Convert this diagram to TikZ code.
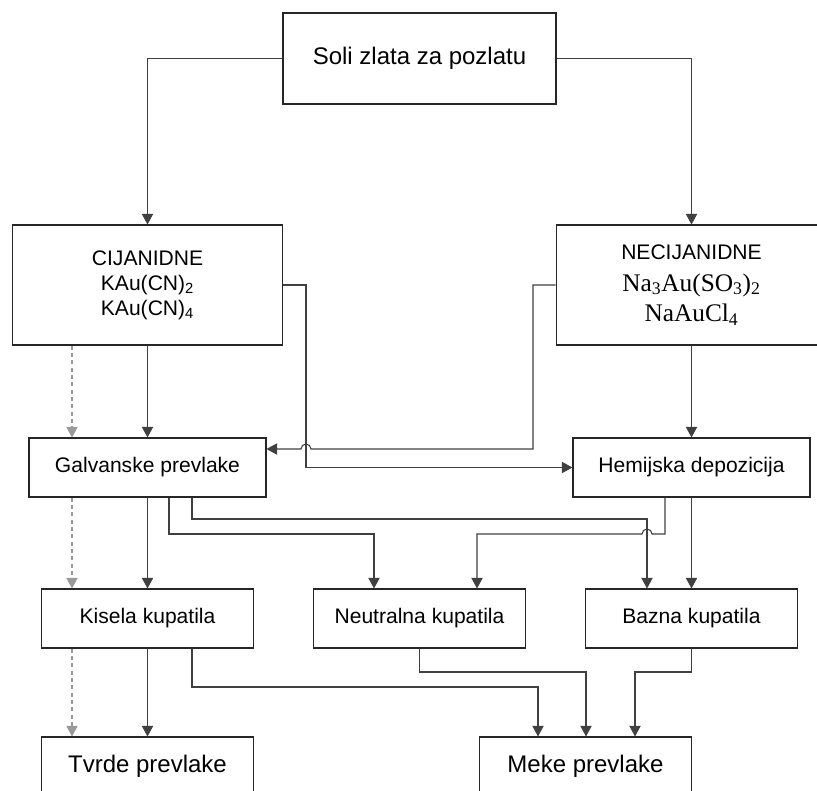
\documentclass[tikz,border=0pt]{standalone}
\usepackage{fontspec}
\setmainfont{Liberation Sans}
\newfontfamily\timesrm{Liberation Serif}
\usetikzlibrary{positioning,arrows.meta,calc}
\tikzset{
    block/.style = {
        draw=black!85,
        shape=rectangle,
        line width=0.8pt,
        inner sep=0pt,
        align=center,
        font=\fontsize{15.8}{18.75}\selectfont
    },
    salt/.style = {
        block,
        minimum width=203pt,
        minimum height=90pt
    },
    method/.style = {
        block,
        minimum width=177.75pt,
        minimum height=44.25pt
    },
    bath/.style = {
        block,
        minimum width=158.5pt,
        minimum height=44.25pt
    },
    coating/.style = {
        block,
        minimum width=158.5pt,
        minimum height=44.25pt,
        font=\fontsize{18}{22}\selectfont
    },
    link/.style = {draw=black!75, line width=0.8pt},
    hint/.style = {draw=black!40, line width=0.8pt, dash pattern=on 3pt off 2.5pt},
    >={Triangle[length=8pt,width=8.5pt]},
}

\begin{document}
\begin{tikzpicture}[x=0.75pt,y=-0.75pt]
    \useasboundingbox (0,0) rectangle (817,790);
    \clip (0,0) rectangle (817,790);

    \node[block, minimum width=204.75pt, minimum height=68.25pt, font=\fontsize{18}{22}\selectfont] (soli) at (419.5,58.5) {Soli zlata za pozlatu};
    \node[salt] (cij) at (147.5,285) {CIJANIDNE\\KAu(CN)\textsubscript{2}\\KAu(CN)\textsubscript{4}};
    \node[salt] (necij) at (691.5,285) {NECIJANIDNE\\[5pt]{\timesrm\fontsize{19}{22}\selectfont Na\textsubscript{3}Au(SO\textsubscript{3})\textsubscript{2}}\\[4pt]{\timesrm\fontsize{19}{22}\selectfont NaAuCl\textsubscript{4}}};
    \node[method] (galv) at (147.5,467.5) {Galvanske prevlake};
    \node[method] (hem) at (691.5,467.5) {Hemijska depozicija};
    \node[bath] (kis) at (147.5,618.5) {Kisela kupatila};
    \node[bath] (neu) at (419.5,618.5) {Neutralna kupatila};
    \node[bath] (baz) at (691.5,618.5) {Bazna kupatila};
    \node[coating] (tvr) at (147.5,766.5) {Tvrde prevlake};
    \node[coating] (mek) at (585.5,766.5) {Meke prevlake};

    \coordinate (dash) at (72,0);
    \coordinate (cross) at (306,0);
    \coordinate (back) at (533,449);
    \coordinate (g2) at (169,0);
    \coordinate (g3) at (192,0);
    \coordinate (n1) at (374,534);
    \coordinate (b1) at (647,519);
    \coordinate (h1) at (665,534);
    \coordinate (n2) at (477,534);
    \coordinate (m1) at (538,687);
    \coordinate (m2) at (586,672);
    \coordinate (m3) at (635,672);

    \path[link, ->] (soli.west) -| (cij.north);
    \path[link, ->] (soli.east) -| (necij.north);
    \path[link, ->] (cij) -- (galv);
    \path[link, ->] (necij) -- (hem);
    \path[hint, ->] (cij.south -| dash) -- (galv.north -| dash);
    \path[hint, ->] (galv.south -| dash) -- (kis.north -| dash);
    \path[hint, ->] (kis.south -| dash) -- (tvr.north -| dash);
    \path[link, ->] (cij.east) -| (cross |- hem) -- (hem.west);
    \path[link, ->] (necij.west) -| (back) -- ($(cross |- back)+(5,0)$) arc[start angle=0, end angle=-180, radius=5] -- (galv.east |- back);
    \path[link, ->] (galv.south -| g2) |- (n1) -- (neu.north -| n1);
    \path[link, ->] (galv.south -| g3) |- (b1) -- (baz.north -| b1);
    \path[link, ->] (hem.south -| h1) -- (h1) -- ($(b1 |- h1)+(5,0)$) arc[start angle=0, end angle=-180, radius=5] -- (n2) -- (neu.north -| n2);
    \path[link, ->] (galv) -- (kis);
    \path[link, ->] (hem) -- (baz);
    \path[link, ->] (kis) -- (tvr);
    \path[link, ->] (kis.south -| g3) |- (m1) -- (mek.north -| m1);
    \path[link, ->] (neu.south) |- (m2) -- (mek.north -| m2);
    \path[link, ->] (baz.south) |- (m3) -- (mek.north -| m3);
\end{tikzpicture}
\end{document}
